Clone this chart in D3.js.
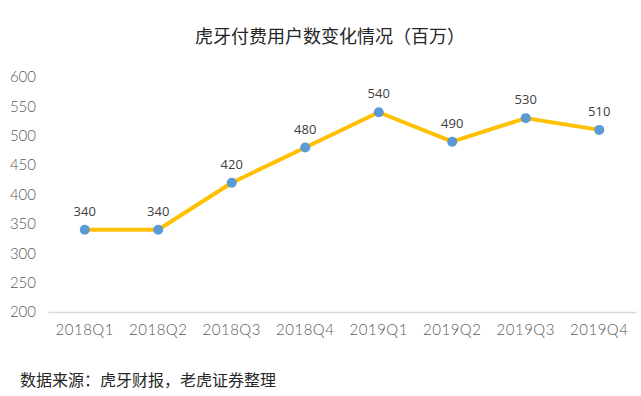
<!DOCTYPE html>
<html>
<head>
<meta charset="utf-8">
<script src="https://cdn.jsdelivr.net/npm/d3@7"></script>
<style>
  body { margin: 0; background: #fff; }
</style>
</head>
<body>
<div id="chart"></div>
<script>
// Data
var quarters = ['2018Q1', '2018Q2', '2018Q3', '2018Q4', '2019Q1', '2019Q2', '2019Q3', '2019Q4'];
var payingUsers = [340, 340, 420, 480, 540, 490, 530, 510];
var yTicks = [200, 250, 300, 350, 400, 450, 500, 550, 600];

var width = 641, height = 396;
var plotLeft = 48, plotRight = 636, plotTop = 77, plotBottom = 312;

var svg = d3.select('#chart')
  .append('svg')
  .attr('width', width)
  .attr('height', height);

var x = d3.scaleBand().domain(quarters).range([plotLeft, plotRight]);
var y = d3.scaleLinear().domain([200, 600]).range([plotBottom, plotTop]);

// Title
svg.append('text')
  .attr('x', 330)
  .attr('y', 43)
  .attr('text-anchor', 'middle')
  .style('font', '18px "Noto Sans CJK SC", sans-serif')
  .style('fill', '#262626')
  .text('虎牙付费用户数变化情况（百万）');

// Y axis labels
svg.selectAll('.y-label')
  .data(yTicks)
  .enter()
  .append('text')
  .attr('class', 'y-label')
  .attr('x', 36)
  .attr('y', function (d) { return y(d); })
  .attr('dy', '0.35em')
  .attr('text-anchor', 'end')
  .style('font', '300 15px Lato, sans-serif')
  .style('fill', '#595959')
  .text(function (d) { return d; });

// X axis
var xAxis = svg.append('g')
  .attr('transform', 'translate(0,' + plotBottom + ')')
  .call(d3.axisBottom(x).tickSize(0).tickPadding(12));
xAxis.select('.domain').attr('stroke', '#d9d9d9').attr('stroke-width', 1.5);
xAxis.selectAll('text')
  .style('font', '300 15px Lato, sans-serif')
  .style('letter-spacing', '0.5px')
  .style('fill', '#595959');

// Line
var line = d3.line()
  .x(function (d, i) { return x(quarters[i]) + x.bandwidth() / 2; })
  .y(function (d) { return y(d); });

svg.append('path')
  .datum(payingUsers)
  .attr('d', line)
  .attr('fill', 'none')
  .attr('stroke', '#ffc000')
  .attr('stroke-width', 4)
  .attr('stroke-linejoin', 'round');

// Dots
svg.selectAll('.dot')
  .data(payingUsers)
  .enter()
  .append('circle')
  .attr('class', 'dot')
  .attr('cx', function (d, i) { return x(quarters[i]) + x.bandwidth() / 2; })
  .attr('cy', function (d) { return y(d); })
  .attr('r', 5)
  .style('fill', '#5b9bd5');

// Value labels
svg.selectAll('.value')
  .data(payingUsers)
  .enter()
  .append('text')
  .attr('class', 'value')
  .attr('x', function (d, i) { return x(quarters[i]) + x.bandwidth() / 2; })
  .attr('y', function (d) { return y(d) - 14; })
  .attr('text-anchor', 'middle')
  .style('font', '13px "Open Sans", sans-serif')
  .style('fill', '#404040')
  .text(function (d) { return d; });

// Source
svg.append('text')
  .attr('x', 20)
  .attr('y', 386)
  .style('font', '16px "Noto Sans CJK SC", sans-serif')
  .style('fill', '#262626')
  .text('数据来源：虎牙财报，老虎证券整理');
</script>
</body>
</html>
